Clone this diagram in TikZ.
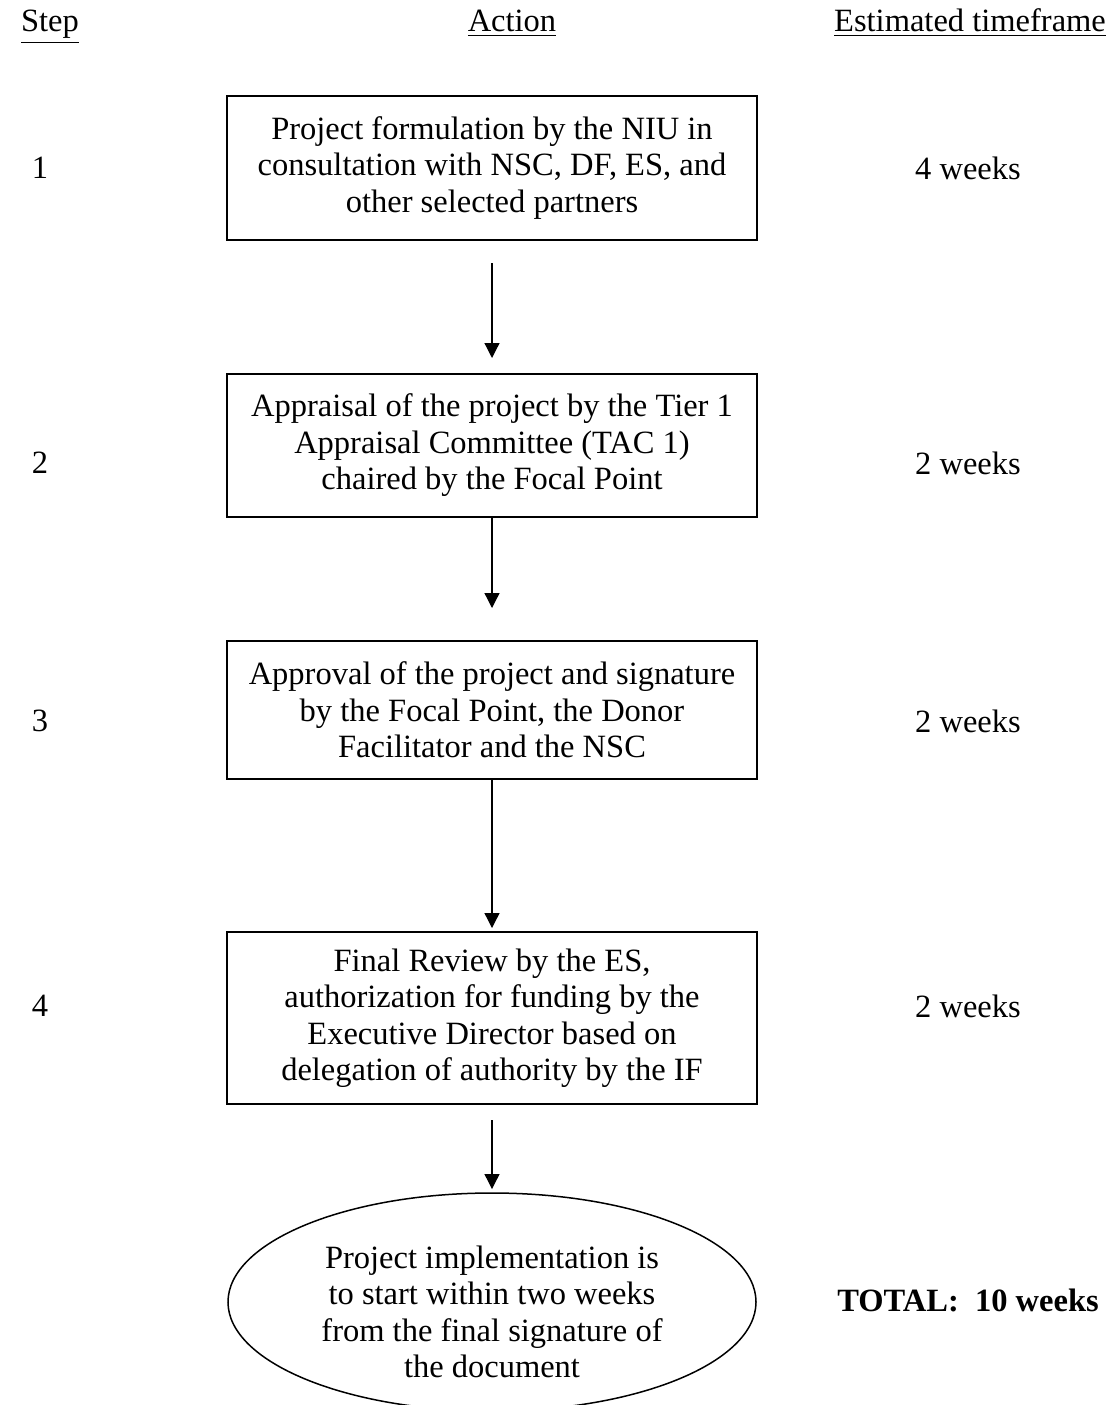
\documentclass[tikz,border=0pt]{standalone}
\usepackage{fontspec}
\setmainfont{Liberation Serif}
\usetikzlibrary{positioning,shapes.geometric,arrows.meta}
\newcommand{\bodysize}{\fontsize{13}{14.6}\selectfont}
\tikzset{action box/.style={
		draw=black,
		line width=0.8pt,
		rectangle,
		minimum width=212pt,
		align=center,
		inner sep=2pt,
		outer sep=0pt,
		font=\bodysize,
	},
	final style/.style={
		draw=black,
		line width=0.6pt,
		ellipse,
		minimum width=211.2pt,
		minimum height=87.2pt,
		inner sep=0pt,
		outer sep=0pt,
		align=center,
		font=\bodysize,
	},
	side style/.style={
		text=black,
		font=\bodysize,
	},
	head style/.style={
		anchor=base,
		font=\bodysize,
	},
	flow style/.style={
		#1,
		line width=0.5pt,
	}
}

\begin{document}
\begin{tikzpicture}[x=0.4pt,y=-0.4pt,>={Triangle[width=6pt,length=6pt]}]
	\useasboundingbox (0,0) rectangle (1112,1405);
	
	% column heads
	\node[head style] (StepHead) at (50,32) {\underline{Step}};
	\node[head style] (ActionHead) at (512,32) {\underline{Action}};
	\node[head style] (TimeHead) at (970,32) {\underline{Estimated timeframe}};
	
	\node[action box, minimum height=57.6pt] (Formulation) at (492,168)
	{Project formulation by the NIU in\\consultation with NSC, DF, ES, and\\other selected partners};
	
	\node[action box, minimum height=57.2pt, below=53.6pt of Formulation] (Appraisal)
	{Appraisal of the project by the Tier 1\\Appraisal Committee (TAC 1)\\chaired by the Focal Point}
	edge [flow style=<-, shorten <=6.4pt, shorten >=9.2pt] (Formulation);
	
	\node[action box, minimum height=55.2pt, below=49.6pt of Appraisal] (Approval)
	{Approval of the project and signature\\by the Focal Point, the Donor\\Facilitator and the NSC}
	edge [flow style=<-, shorten <=13.2pt] (Appraisal);
	
	\node[action box, minimum height=68.8pt, below=61.2pt of Approval] (Review)
	{Final Review by the ES,\\authorization for funding by the\\Executive Director based on\\delegation of authority by the IF}
	edge [flow style=<-, shorten <=1.6pt] (Approval);
	
	\node[final style, below=35.6pt of Review] (Start)
	{\rule{0pt}{17pt}Project implementation is\\to start within two weeks\\from the final signature of\\the document}
	edge [flow style=<-, shorten <=1.6pt, shorten >=6.4pt] (Review);
	
	% step numbers and timeframes
	\node[side style] (One) at (40,168) {1};
	\node[side style] (Two) at (40,463) {2};
	\node[side style] (Three) at (40,721) {3};
	\node[side style] (Four) at (40,1006) {4};
	\node[side style] (WeeksOne) at (968,168) {4 weeks};
	\node[side style] (WeeksTwo) at (968,463) {2 weeks};
	\node[side style] (WeeksThree) at (968,721) {2 weeks};
	\node[side style] (WeeksFour) at (968,1006) {2 weeks};
	\node[side style] (Total) at (968,1300) {\textbf{TOTAL:~~10 weeks}};
\end{tikzpicture}
\end{document}
